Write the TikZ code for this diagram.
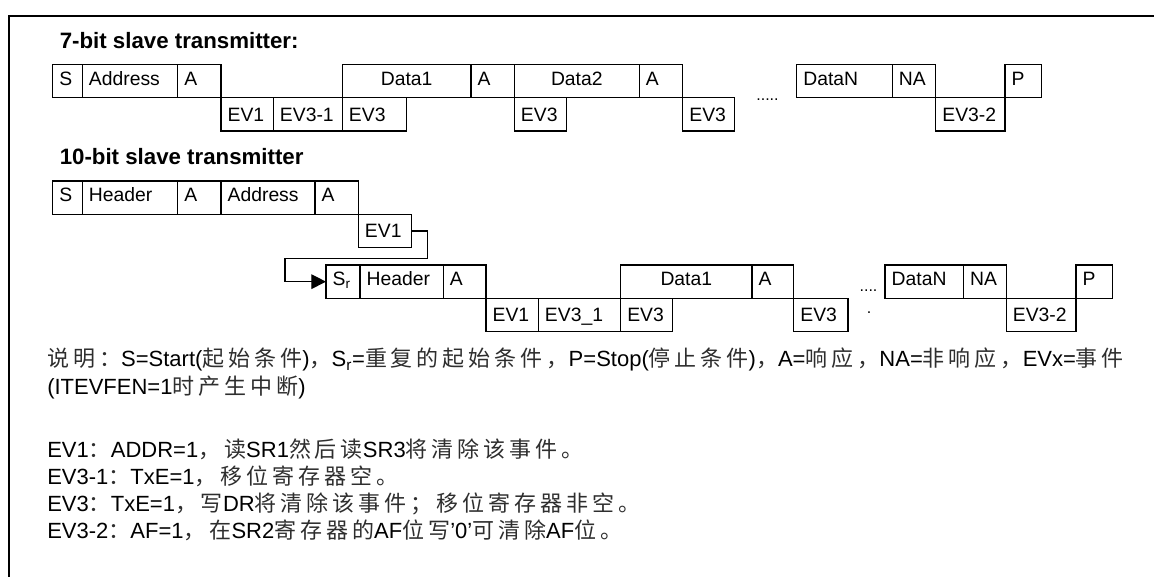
\documentclass[tikz,border=0pt]{standalone}
\usepackage{fontspec}
\setmainfont{Liberation Sans}
\newfontfamily\zhfont[LetterSpace=18]{Noto Sans CJK SC}
\newcommand\zhtxt[1]{{\zhfont\color{black!82}#1}}
\usetikzlibrary{arrows.meta}

\begin{document}
\begin{tikzpicture}[x=0.75pt,y=-0.75pt,line join=miter,
  cell/.style={draw,line width=0.9pt,rectangle,inner xsep=5pt,inner ysep=0pt,outer sep=0pt,
    minimum height=25pt,anchor=north west,font=\fontsize{14.5}{16}\selectfont},
  hi/.style={text height=10pt,text depth=3.7pt},
  lo/.style={text height=10pt,text depth=0pt},
  ttl/.style={anchor=base west,inner sep=0pt,font=\fontsize{16.7}{19}\selectfont\bfseries},
  note/.style={anchor=base west,inner sep=0pt,font=\fontsize{16.5}{19}\selectfont},
  dots/.style={inner sep=0pt,font=\fontsize{12}{12}\selectfont},
  flow/.style={line width=0.9pt,-{Triangle[length=11pt,width=11pt]}}]

  \useasboundingbox (0,0) rectangle (1154,577);
  % 外框
  \draw[line width=1.4pt] (9,580) -- (9,15.7) -- (1160,15.7);

  % 7-bit 从发送器
  \node[ttl] (t7) at (59.5,48.3) {7-bit slave transmitter:};
  \foreach \nm/\xa/\xb/\al/\lab in {
    s/52.7/82.3/left/S,
    addr/82.3/177.7/left/Address,
    ack/177.7/221/left/A,
    d1/342.3/471/center/Data1,
    acka/471/514.3/left/A,
    d2/514.3/639.3/center/Data2,
    ackb/639.3/682.7/left/A,
    dn/796.7/892.3/left/DataN,
    nack/892.3/935.7/left/NA,
    p/1005/1041.7/left/P
  } {
    \pgfmathsetmacro\w{(\xb-\xa)*0.75}
    \pgfmathsetmacro\tw{\w-10}
    \node[cell,hi,minimum width=\w pt,text width=\tw pt,align=\al] (a\nm) at (\xa,64.5) {\lab};
  }
  \foreach \nm/\xa/\xb/\lab in {
    ev1/221/273.3/EV1,
    ev31/273.3/342.3/EV3-1,
    ev3a/342.3/406.7/EV3,
    ev3b/514.3/566.7/EV3,
    ev3c/682.7/734.3/EV3,
    ev32/935.7/1005/EV3-2
  } {
    \pgfmathsetmacro\w{(\xb-\xa)*0.75}
    \pgfmathsetmacro\tw{\w-10}
    \node[cell,lo,minimum width=\w pt,text width=\tw pt,align=left] (a\nm) at (\xa,97.7) {\lab};
  }
  \node[dots] (adots) at (767.5,99.5) {.....};

  % 10-bit 从发送器
  \node[ttl] (t10) at (59.5,165) {10-bit slave transmitter};
  \foreach \nm/\xa/\xb/\lab in {
    s/52.7/82.3/S,
    hdr/82.3/177.7/Header,
    ack/177.7/221/A,
    addr/221/315/Address,
    acka/315/358.3/A
  } {
    \pgfmathsetmacro\w{(\xb-\xa)*0.75}
    \pgfmathsetmacro\tw{\w-10}
    \node[cell,hi,minimum width=\w pt,text width=\tw pt,align=left] (b\nm) at (\xa,181) {\lab};
  }
  \node[cell,lo,minimum width=40pt,text width=30pt,align=left] (bev1) at (358.3,214.3) {EV1};

  \foreach \nm/\xa/\xb/\al/\lab in {
    sr/326/360/left/S\textsubscript{r},
    hdr/360/443.3/left/Header,
    ack/443.3/486/left/A,
    d1/620.6/752/center/Data1,
    acka/752/793.7/left/A,
    dn/885/963.4/left/DataN,
    nack/963.4/1006.2/left/NA,
    p/1076/1112.3/left/P
  } {
    \pgfmathsetmacro\w{(\xb-\xa)*0.75}
    \pgfmathsetmacro\tw{\w-10}
    \node[cell,hi,minimum width=\w pt,text width=\tw pt,align=\al] (c\nm) at (\xa,265) {\lab};
  }
  \foreach \nm/\xa/\xb/\lab in {
    ev1/486/538.3/EV1,
    ev31/538.3/620.6/EV3\_1,
    ev3a/620.6/672.5/EV3,
    ev3b/793.7/847.9/EV3,
    ev32/1006.2/1076/EV3-2
  } {
    \pgfmathsetmacro\w{(\xb-\xa)*0.75}
    \pgfmathsetmacro\tw{\w-10}
    \node[cell,lo,minimum width=\w pt,text width=\tw pt,align=left] (c\nm) at (\xa,298.3) {\lab};
  }
  \node[dots] (cdotsa) at (868.5,291) {....};
  \node[dots] (cdotsb) at (869,313) {.};

  % 重复起始的回线
  \coordinate (loopR) at (427.3,258.3);
  \coordinate (loopL) at (285,258.3);
  \draw[flow] (bev1.east) -| (loopR) -- (loopL) |- (csr.west);

  % 说明
  \node[note] (n1) at (47,367) {\zhtxt{说明：}S=Start(\zhtxt{起始条件})\zhtxt{，}S\textsubscript{r}=\zhtxt{重复的起始条件，}P=Stop(\zhtxt{停止条件})\zhtxt{，}A=\zhtxt{响应，}NA=\zhtxt{非响应，}EVx=\zhtxt{事件}};
  \node[note] (n2) at (47,395) {(ITEVFEN=1\zhtxt{时产生中断})};
  \node[note] (n3) at (47,457) {EV1\zhtxt{：}ADDR=1\zhtxt{，读}SR1\zhtxt{然后读}SR3\zhtxt{将清除该事件。}};
  \node[note] (n4) at (47,484) {EV3-1\zhtxt{：}TxE=1\zhtxt{，移位寄存器空。}};
  \node[note] (n5) at (47,511) {EV3\zhtxt{：}TxE=1\zhtxt{，写}DR\zhtxt{将清除该事件；移位寄存器非空。}};
  \node[note] (n6) at (47,538) {EV3-2\zhtxt{：}AF=1\zhtxt{，在}SR2\zhtxt{寄存器的}AF\zhtxt{位写}'0'\zhtxt{可清除}AF\zhtxt{位。}};
\end{tikzpicture}
\end{document}
